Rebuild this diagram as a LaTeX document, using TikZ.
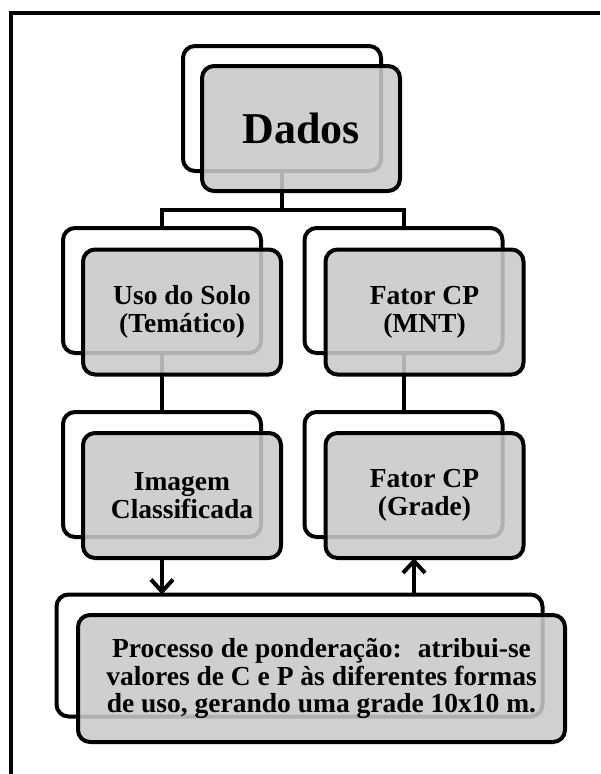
\documentclass[tikz,border=0pt]{standalone}
\usepackage{fontspec}
\setmainfont{Liberation Serif}
\usetikzlibrary{arrows.meta,calc}
\begin{document}
\begin{tikzpicture}[x=1pt,y=-1pt, line width=4pt,
 backbox/.style={draw, rounded corners=12pt, fill=white, minimum width=198pt, minimum height=125pt, inner sep=0pt, outer sep=0pt},
 frontbox/.style={draw, rounded corners=12pt, fill=black!21, fill opacity=0.88, text opacity=1, minimum width=198pt, minimum height=125pt, inner sep=0pt, outer sep=0pt, align=center, font=\fontsize{27.5}{28}\selectfont\bfseries},
 conn/.style={draw, line width=4pt},
 arr/.style={conn, -{Straight Barb[length=12pt,width=22pt]}}
]
\useasboundingbox (0,0) rectangle (600,774);
\draw (11,774) -- (11,13) -- (600,13);
% back boxes
\node[backbox] (db) at (282,108.5) {};
\node[backbox] (lb1) at (162,290.5) {};
\node[backbox] (rb1) at (403.5,290.5) {};
\node[backbox] (lb2) at (162,474.5) {};
\node[backbox] (rb2) at (403.5,474.5) {};
\node[backbox, minimum width=486pt, minimum height=122pt] (bb) at (299.5,655.5) {};
% connectors
\coordinate (hub) at (282,210);
\draw[conn] (db.south) -- (hub);
\draw[conn] (lb1.north) |- (hub) -| (rb1.north);
\draw[conn] (lb1.south) -- (lb2.north);
\draw[conn] (rb1.south) -- (rb2.north);
% front boxes
\node[frontbox, font=\fontsize{44}{44}\selectfont\bfseries] (df) at (301,128.5) {Dados};
\node[frontbox] (lf1) at (182,312) {Uso do Solo\\(Temático)};
\node[frontbox] (rf1) at (424.5,312) {Fator CP\\(MNT)};
\node[frontbox] (lf2) at (182,495.5) {Imagem\\Classificada};
\node[frontbox] (rf2) at (424.5,495.5) {Fator CP\\(Grade)};
\node[frontbox, minimum width=487pt, minimum height=127pt, font=\fontsize{27.5}{27.5}\selectfont\bfseries] (bf) at (321.5,678.5) {Processo de ponderação:~ atribui-se\\valores de C e P às diferentes formas\\de uso, gerando uma grade 10x10 m.};
% arrows
\draw[arr] (lb2 |- lf2.south) -- (lb2 |- bb.north);
\coordinate (ua) at ($(rb2.south)!0.5!(rf2.south)$);
\draw[arr] (ua |- bb.north) -- (ua |- rf2.south);
\end{tikzpicture}
\end{document}
